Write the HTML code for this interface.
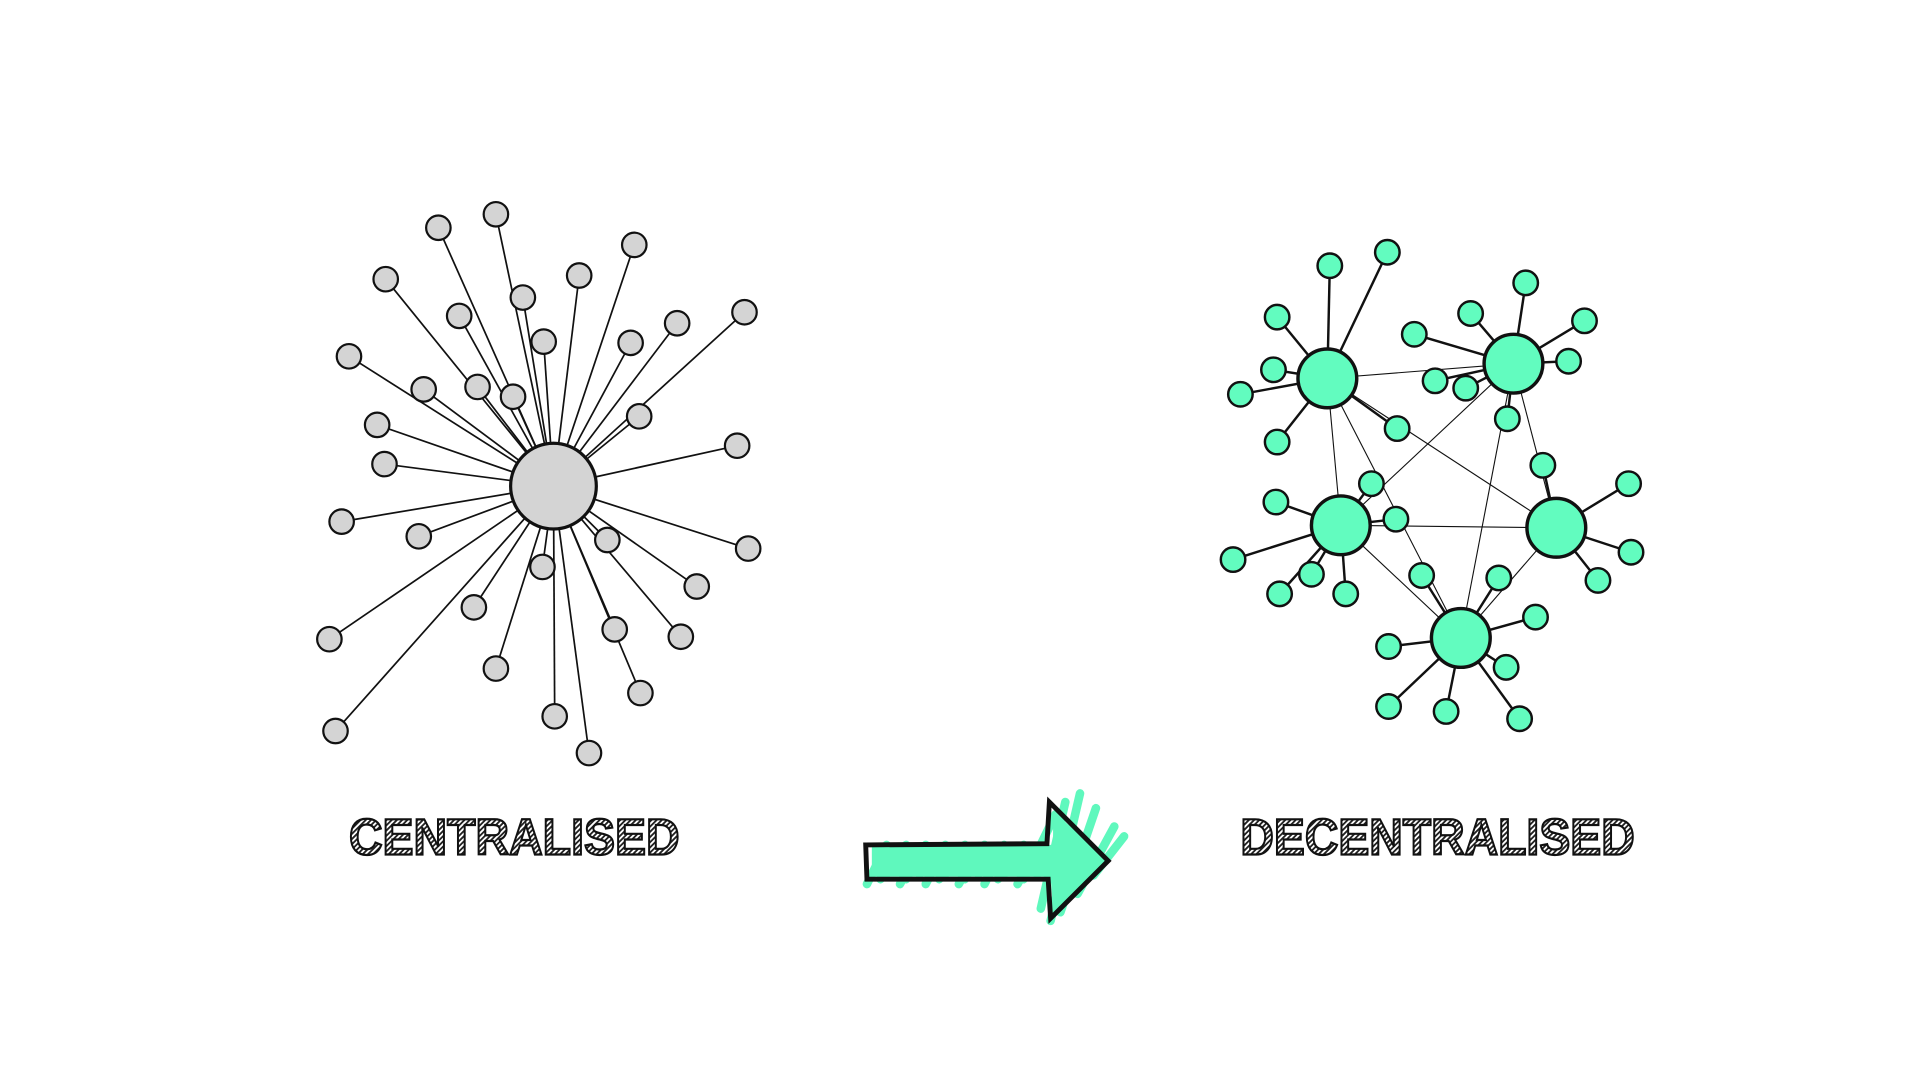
<!DOCTYPE html>
<html><head><meta charset="utf-8"><style>html,body{margin:0;padding:0;background:#fff}svg{display:block}</style></head>
<body>
<svg width="1920" height="1080" viewBox="0 0 1568 882" xmlns="http://www.w3.org/2000/svg">
<defs>
<pattern id="h" width="3" height="3" patternUnits="userSpaceOnUse" patternTransform="rotate(45)">
<rect width="3" height="3" fill="#fff"/><rect width="1.5" height="3" fill="#222"/></pattern>
</defs>
<script>
(function(){
var ns="http://www.w3.org/2000/svg",svg=document.querySelector('svg');
function el(t,a,p){var e=document.createElementNS(ns,t);for(var k in a)e.setAttribute(k,a[k]);(p||svg).appendChild(e);return e;}
var H=[452,397];
var L=[[405,175],[358,186],[518,200],[315,228],[473,225],[427,243],[375,258],[608,255],[553,264],[515,280],[444,279],[285,291],[346,318],[390,316],[419,324],[522,340],[308,347],[314,379],[602,364],[279,426],[342,438],[611,448],[496,441],[443,463],[569,479],[387,496],[502,514],[556,520],[269,522],[405,546],[523,566],[453,585],[274,597],[481,615]];
var g=el('g',{stroke:'#111','stroke-width':1.4});
L.forEach(function(p){el('line',{x1:H[0],y1:H[1],x2:p[0],y2:p[1]},g);});
L.forEach(function(p){el('circle',{cx:p[0],cy:p[1],r:10,fill:'#d4d4d4',stroke:'#111','stroke-width':1.8});});
el('circle',{cx:H[0],cy:H[1],r:35,fill:'#d4d4d4',stroke:'#111','stroke-width':2.6});
var hubs={A:[1084,309],B:[1236,297],C:[1095,429],D:[1271,431],E:[1193,521]};
var leaves={A:[[1086,217],[1133,206],[1043,259],[1040,302],[1013,322],[1043,361],[1141,350]],
B:[[1246,231],[1201,256],[1155,273],[1294,262],[1281,295],[1172,311],[1197,317],[1231,342]],
C:[[1042,410],[1007,457],[1045,485],[1071,469],[1099,485],[1120,395],[1140,424]],
D:[[1260,380],[1330,395],[1332,451],[1305,474]],
E:[[1161,470],[1224,472],[1254,504],[1134,528],[1230,545],[1134,577],[1181,581],[1241,587]]};
var g2=el('g',{stroke:'#111','stroke-width':0.9});
[['A','B'],['A','C'],['A','D'],['A','E'],['B','C'],['B','D'],['B','E'],['C','D'],['C','E'],['D','E']].forEach(function(e){var a=hubs[e[0]],b=hubs[e[1]];el('line',{x1:a[0],y1:a[1],x2:b[0],y2:b[1]},g2);});
var g3=el('g',{stroke:'#111','stroke-width':2});
for(var k in leaves)leaves[k].forEach(function(p){el('line',{x1:hubs[k][0],y1:hubs[k][1],x2:p[0],y2:p[1]},g3);});
for(var k in leaves)leaves[k].forEach(function(p){el('circle',{cx:p[0],cy:p[1],r:10,fill:'#62fcbf',stroke:'#111','stroke-width':2});});
for(var k in hubs)el('circle',{cx:hubs[k][0],cy:hubs[k][1],r:24,fill:'#62fcbf',stroke:'#111','stroke-width':2.8});
var sg=el('g',{stroke:'#5ff8bd','stroke-width':7,'stroke-linecap':'round',fill:'none'});
for(var i=0;i<18;i++){var x=708+i*8+(i%2)*3;el('line',{x1:x,y1:722-(i%3)*4,x2:x+16,y2:690+(i%2)*3},sg);}
[[850,742,870,655],[858,752,882,648],[866,745,895,660],[880,730,910,675],[893,715,918,683],[845,700,862,665]].forEach(function(s){el('line',{x1:s[0],y1:s[1],x2:s[2],y2:s[3]},sg);});
el('polygon',{points:'712,690 860,690 860,662 905,703 860,744 858,716 712,716',fill:'#5ff8bd',stroke:'none'});
el('polygon',{points:'707,690 855,689 857,655 905,703 858,750 856,718 708,718',fill:'none',stroke:'#111','stroke-width':4,'stroke-linejoin':'miter'});
})();
</script>
<g font-family="Liberation Sans, sans-serif" font-weight="bold" font-size="42" fill="url(#h)" stroke="#111" stroke-width="1.8">
<text x="285" y="698" textLength="270" lengthAdjust="spacingAndGlyphs">CENTRALISED</text>
<text x="1013" y="698" textLength="322" lengthAdjust="spacingAndGlyphs">DECENTRALISED</text>
</g>
</svg>
</body></html>
